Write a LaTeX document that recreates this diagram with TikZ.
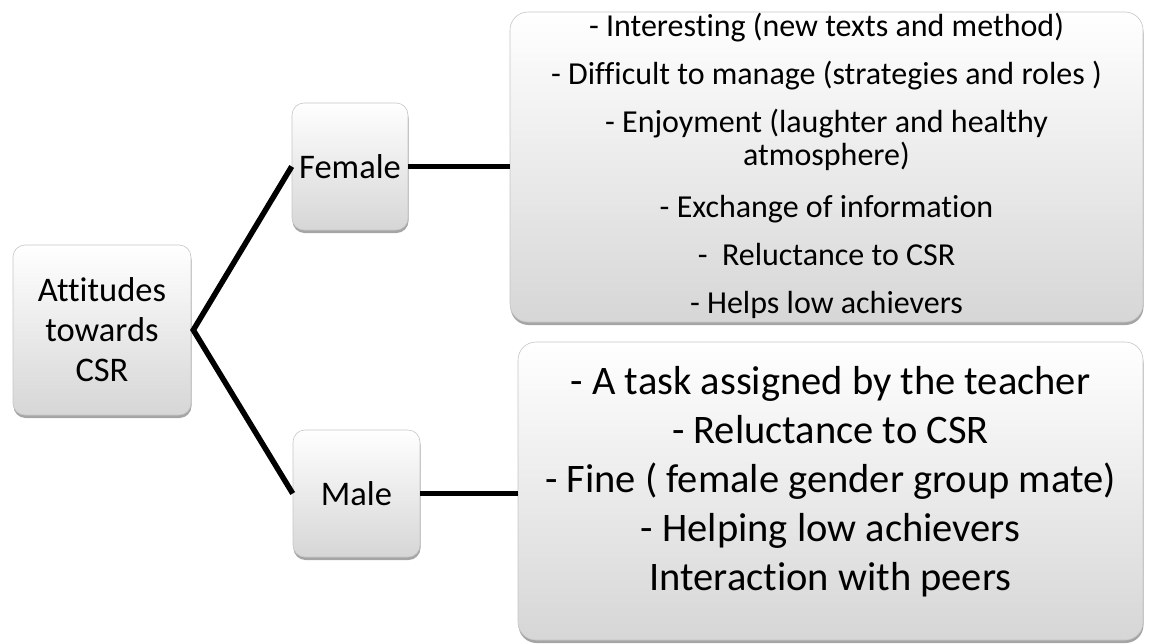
\documentclass[tikz,border=0pt]{standalone}
\usepackage{fontspec}
\setmainfont{Carlito}[Ligatures=NoCommon]
\usetikzlibrary{shadows}
\begin{document}
\begin{tikzpicture}[x=1pt,y=-1pt,
  card/.style={draw=gray!45, line width=0.6pt, rounded corners=12pt,
    top color=white, bottom color=gray!32, inner sep=0pt,
    drop shadow={shadow xshift=0.5pt, shadow yshift=-3pt, opacity=0.5, fill=black!70}},
  bigcard/.style={card, rounded corners=18pt},
  smalltext/.style={align=center, font=\fontsize{34.5}{40}\selectfont},
  link/.style={line width=5.5pt, black}]
\useasboundingbox (0,0) rectangle (1149,643);

% category boxes
\node[card, smalltext, minimum width=178pt, minimum height=170pt] (root) at (102,330) {Attitudes\\towards\\CSR};
\node[card, smalltext, minimum width=116pt, minimum height=127pt] (fem) at (350,166.5) {Female};
\node[card, smalltext, minimum width=127pt, minimum height=127pt] (male) at (356.5,493.5) {Male};

% detail boxes
\node[bigcard, minimum width=633pt, minimum height=310pt] (femlist) at (826.5,167) {};
\node[bigcard, minimum width=625pt, minimum height=298pt] (malelist) at (830.5,491) {};

\node[align=center, inner sep=0pt, font=\fontsize{32}{33}\selectfont] (femtext) at (826.5,166)
  {- Interesting (new texts and method)\\[15pt]
   - Difficult to manage (strategies and roles )\\[15pt]
   - Enjoyment (laughter and healthy\\
   atmosphere)\\[19pt]
   - Exchange of information\\[15pt]
   -\ \ Reluctance to CSR\\[15pt]
   - Helps low achievers};

\node[align=center, inner sep=0pt, font=\fontsize{40.5}{49}\selectfont] (maletext) at (830.5,482)
  {- A task assigned by the teacher\\
   - Reluctance to CSR\\
   - Fine ( female gender group mate)\\
   - Helping low achievers\\
   Interaction with peers};

% connectors
\draw[link, line join=miter] (fem.west) -- ([xshift=2pt]root.east) -- (male.west);
\draw[link] (fem.east) -- (fem.east -| femlist.west);
\draw[link] (male.east) -- (male.east -| malelist.west);
\end{tikzpicture}
\end{document}
